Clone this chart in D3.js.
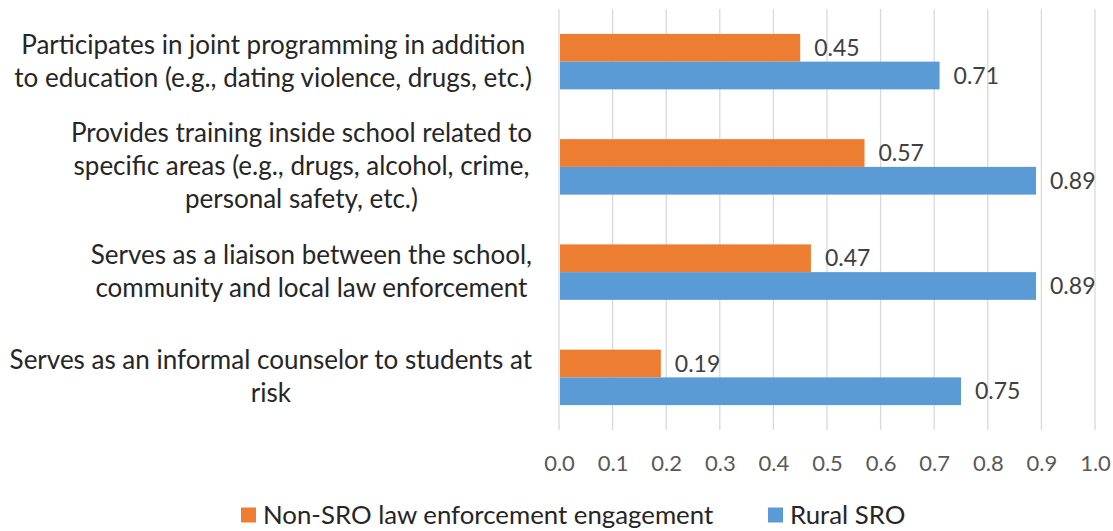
<!DOCTYPE html>
<html>
<head>
<meta charset="utf-8">
<script src="https://cdn.jsdelivr.net/npm/d3@7"></script>
<style>
  body { margin: 0; background: #fff; }
  svg { display: block; font-family: Lato, "Open Sans", sans-serif; }
</style>
</head>
<body>
<div id="chart"></div>
<script>
// categories, top to bottom, already wrapped the way the original shows them
var categories = [
    ["Participates in joint programming in addition", "to education (e.g., dating violence, drugs, etc.)"],
    ["Provides training inside school related to", "specific areas (e.g., drugs, alcohol, crime,", "personal safety, etc.)"],
    ["Serves as a liaison between the school,", "community and local law enforcement"],
    ["Serves as an informal counselor to students at", "risk"]
];
var seriesNames = ["Non-SRO law enforcement engagement", "Rural SRO"];
var nonSro = [0.45, 0.57, 0.47, 0.19];
var ruralSro = [0.71, 0.89, 0.89, 0.75];
var xTicks = [0, 0.1, 0.2, 0.3, 0.4, 0.5, 0.6, 0.7, 0.8, 0.9, 1.0];

var colors = ["#ED7D31", "#5B9BD5"];

var width = 1113, height = 531;
var margin = { top: 9, right: 18, bottom: 101, left: 559 };

var svg = d3.select("#chart").append("svg")
    .attr("width", width)
    .attr("height", height);

var x = d3.scaleLinear().domain([0, 1]).range([margin.left, width - margin.right]);
var y0 = d3.scaleBand()
    .domain(d3.range(categories.length))
    .range([margin.top, height - margin.bottom])
    .paddingInner(0.473)
    .paddingOuter(0.2365);
var y1 = d3.scaleBand().domain([0, 1]).range([0, y0.bandwidth()]);

// vertical gridlines
svg.append("g")
    .attr("class", "grid")
    .selectAll("line")
    .data(xTicks)
    .enter().append("line")
    .attr("x1", function (d) { return x(d); })
    .attr("x2", function (d) { return x(d); })
    .attr("y1", margin.top)
    .attr("y2", height - margin.bottom)
    .attr("stroke", "#d9d9d9")
    .attr("stroke-width", 1.3);

// x axis labels (no axis line, just text)
var xAxis = d3.axisBottom(x).tickValues(xTicks).tickFormat(d3.format(".1f")).tickSize(0).tickPadding(0);
var axisG = svg.append("g")
    .attr("transform", "translate(0," + 463 + ")")
    .call(xAxis);
axisG.select(".domain").remove();
axisG.selectAll("text")
    .attr("dy", "0.35em")
    .attr("font-size", 22)
    .attr("font-family", "Lato, sans-serif")
    .attr("fill", "#595959");

var rows = categories.map(function (c, i) {
    return { i: i, values: [nonSro[i], ruralSro[i]] };
});

var groups = svg.selectAll(".row")
    .data(rows)
    .enter().append("g")
    .attr("class", "row")
    .attr("transform", function (d) { return "translate(0," + y0(d.i) + ")"; });

groups.selectAll("rect")
    .data(function (d) { return d.values; })
    .enter().append("rect")
    .attr("x", x(0) + 1)
    .attr("y", function (d, j) { return y1(j); })
    .attr("width", function (d) { return x(d) - x(0) - 1; })
    .attr("height", y1.bandwidth())
    .attr("fill", function (d, j) { return colors[j]; });

groups.selectAll(".val")
    .data(function (d) { return d.values; })
    .enter().append("text")
    .attr("class", "val")
    .attr("x", function (d) { return x(d) + 14; })
    .attr("y", function (d, j) { return y1(j) + y1.bandwidth() / 2; })
    .attr("dy", "0.35em")
    .attr("font-size", 23)
    .attr("fill", "#404040")
    .text(function (d) { return d3.format(".2f")(d); });

// category labels: each block right aligned, lines centered inside it
var labelRight = 532, lineH = 33;
categories.forEach(function (lines, i) {
    var g = svg.append("g").attr("class", "cat");
    var texts = lines.map(function (l) {
        return g.append("text")
            .attr("font-size", 26)
            .attr("fill", "#262626")
            .attr("text-anchor", "middle")
            .attr("dy", "0.33em")
            .text(l);
    });
    var maxW = d3.max(texts, function (t) { return t.node().getComputedTextLength(); });
    var cy = y0(i) + y0.bandwidth() / 2;
    texts.forEach(function (t, k) {
        t.attr("x", labelRight - maxW / 2)
         .attr("y", cy + (k - (lines.length - 1) / 2) * lineH);
    });
});

// legend
var legend = svg.append("g").attr("class", "legend")
    .attr("transform", "translate(241,515)");
var legendX = [0, 527];
seriesNames.forEach(function (name, j) {
    var item = legend.append("g").attr("transform", "translate(" + legendX[j] + ",0)");
    item.append("rect")
        .attr("x", 0).attr("y", -7.5)
        .attr("width", 15).attr("height", 15)
        .attr("fill", colors[j]);
    item.append("text")
        .attr("x", 22)
        .attr("dy", "0.33em")
        .attr("font-size", 25.8)
        .attr("fill", "#262626")
        .text(name);
});
</script>
</body>
</html>
